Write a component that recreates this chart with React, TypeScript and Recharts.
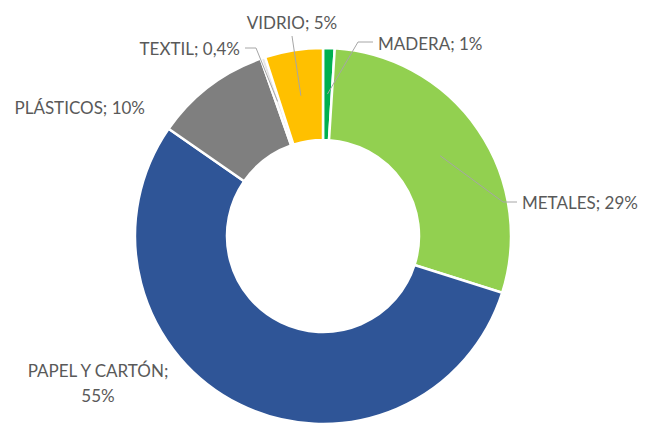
import { PieChart, Pie, Cell } from 'recharts';

const categories = ['MADERA', 'METALES', 'PAPEL Y CARTÓN', 'PLÁSTICOS', 'TEXTIL', 'VIDRIO'];
const shares = [1, 29, 55, 10, 0.4, 5];
const colors = ['#00B050', '#92D050', '#2F5597', '#7F7F7F', '#E7E6E6', '#FFC000'];

// label placement, relative to the pie centre (Excel-style manual positions)
type LabelSpot = {
  dx: number;
  dy: number;
  anchor: 'start' | 'middle' | 'end';
  elbow?: [number, number][];
  wrap?: boolean;
};

const labelSpots: LabelSpot[] = [
  { dx: 55, dy: -193, anchor: 'start', elbow: [[35, -194], [50, -194]] },
  { dx: 199, dy: -34, anchor: 'start', elbow: [[180, -34], [194, -34]] },
  { dx: -225, dy: 141, anchor: 'middle', wrap: true },
  { dx: -178, dy: -129, anchor: 'end' },
  { dx: -83, dy: -188, anchor: 'end', elbow: [[-67, -188], [-78, -188]] },
  { dx: -31, dy: -214, anchor: 'middle', elbow: [[-31, -200]] },
];

const data = categories.map((name, i) => ({ name, value: shares[i] }));

const RAD = Math.PI / 180;
const fmt = (v: number) => `${String(v).replace('.', ',')}%`;

const renderLabel = (props: any) => {
  const { cx, cy, midAngle, innerRadius, outerRadius, index } = props;
  const spot = labelSpots[index];
  const r = (innerRadius + outerRadius) / 2;
  const sx = cx + r * Math.cos(-midAngle * RAD);
  const sy = cy + r * Math.sin(-midAngle * RAD);
  const tx = cx + spot.dx;
  const ty = cy + spot.dy;
  const name = categories[index];
  const text = fmt(shares[index]);
  let path = '';
  if (spot.elbow) {
    path = `M${sx},${sy}` + spot.elbow.map(([ex, ey]) => ` L${cx + ex},${cy + ey}`).join('');
  }
  return (
    <g key={`lbl-${index}`}>
      {path && <path d={path} stroke="#A6A6A6" strokeWidth={1} fill="none" />}
      {spot.wrap ? (
        <text x={tx} y={ty} textAnchor={spot.anchor} fill="#595959" fontSize={17} fontFamily="Lato">
          <tspan x={tx} dy={0}>{name};</tspan>
          <tspan x={tx} dy={25}>{text}</tspan>
        </text>
      ) : (
        <text x={tx} y={ty} textAnchor={spot.anchor} dominantBaseline="central" fill="#595959" fontSize={17} fontFamily="Lato">
          {`${name}; ${text}`}
        </text>
      )}
    </g>
  );
};

export default function App() {
  return (
    <div style={{ position: 'absolute', left: 0, top: 0, width: 645, height: 425, background: '#fff' }}>
      <PieChart width={645} height={425} margin={{ top: 0, right: 0, bottom: 0, left: 0 }}>
        <Pie
          data={data}
          dataKey="value"
          nameKey="name"
          cx={323}
          cy={236}
          innerRadius={96}
          outerRadius={188}
          startAngle={90}
          endAngle={-270}
          stroke="#FFFFFF"
          strokeWidth={2.5}
          label={renderLabel}
          labelLine={false}
          isAnimationActive={false}
        >
          {data.map((entry, i) => (
            <Cell key={`cell-${entry.name}`} fill={colors[i]} />
          ))}
        </Pie>
      </PieChart>
    </div>
  );
}
